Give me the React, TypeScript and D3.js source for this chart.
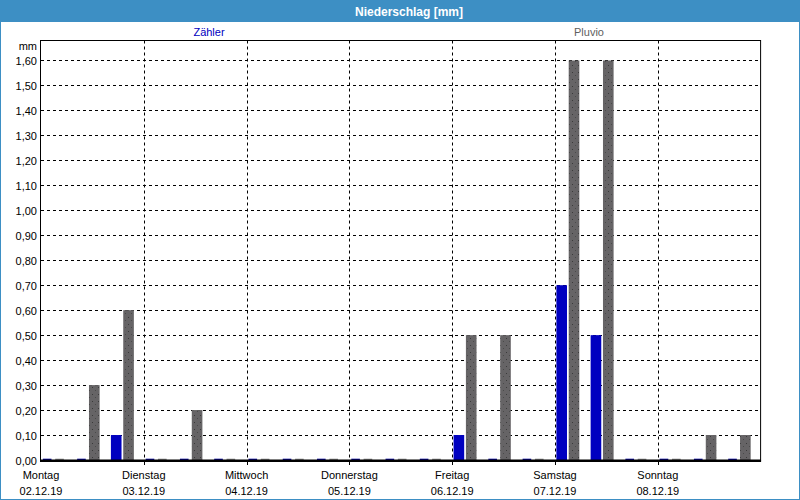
import React from "react";
import * as d3 from "d3";

const dayNames = ["Montag", "Dienstag", "Mittwoch", "Donnerstag", "Freitag", "Samstag", "Sonntag"];
const dayDates = ["02.12.19", "03.12.19", "04.12.19", "05.12.19", "06.12.19", "07.12.19", "08.12.19"];
// 8-hour periods, 3 per day
const zaehler = [0, 0, 0.1, 0, 0, 0, 0, 0, 0, 0, 0, 0, 0.1, 0, 0, 0.7, 0.5, 0, 0, 0, 0];
const pluvio = [0, 0.3, 0.6, 0, 0.2, 0, 0, 0, 0, 0, 0, 0, 0.5, 0.5, 0, 1.6, 1.6, 0, 0, 0.1, 0.1];
const yTicks = [0, 0.1, 0.2, 0.3, 0.4, 0.5, 0.6, 0.7, 0.8, 0.9, 1.0, 1.1, 1.2, 1.3, 1.4, 1.5, 1.6];

const W = 800, H = 500;
const L = 41, R = 760.6, T = 40.5, B = 460;
const font = "'Liberation Sans', Arial, sans-serif";

export default function App() {
  const x = d3.scaleLinear().domain([0, 7]).range([L, R]);
  const y = d3.scaleLinear().domain([0, 1.68]).range([B, T]);
  const slotW = (x(1) - x(0)) / 3;
  const fmt = (v: number) => v.toFixed(2).replace(".", ",");
  const bw = slotW * 0.31;

  const bar = (v: number, i: number, off: number, fill: string, stub: string, key: string) => {
    const x0 = x(i / 3) + off * slotW;
    if (v === 0) return <rect key={key} x={x0 + 0.5} y={B - 1.3} width={bw - 2} height={1.3} fill={stub} />;
    return <rect key={key} x={x0} y={y(v)} width={bw} height={B - y(v)} fill={fill} />;
  };

  return (
    <div style={{ position: "fixed", left: 0, top: 0 }}>
      <svg width={W} height={H} style={{ display: "block" }}>
        <defs>
          <pattern id="dots" width="6" height="7" patternUnits="userSpaceOnUse">
            <rect width="6" height="7" fill="#666466" />
            <rect x="2" y="2" width="1" height="1" fill="#3a3a3a" />
            <rect x="5" y="5" width="1" height="1" fill="#4a4a4a" />
          </pattern>
        </defs>
        <rect x={0} y={0} width={W} height={H} fill="#ffffff" />
        <rect x={0} y={0} width={W} height={22} fill="#3d8fc4" />
        <rect x={0} y={0} width={1} height={H} fill="#3d8fc4" />
        <rect x={W - 1} y={0} width={1} height={H} fill="#3d8fc4" />
        <rect x={0} y={H - 1} width={W} height={1} fill="#3d8fc4" />
        <text x={409} y={15.5} textAnchor="middle" fill="#ffffff" fontFamily={font} fontSize={12} fontWeight="bold">
          Niederschlag [mm]
        </text>
        <text x={209} y={36} textAnchor="middle" fill="#0000c0" fontFamily={font} fontSize={11}>Zähler</text>
        <text x={589} y={36} textAnchor="middle" fill="#606060" fontFamily={font} fontSize={11}>Pluvio</text>
        <text x={37} y={50} textAnchor="end" fill="#000" fontFamily={font} fontSize={11}>mm</text>

        {yTicks.map((v) => (
          <g key={v}>
            {v > 0 && (
              <line x1={L} x2={R} y1={Math.round(y(v)) + 0.5} y2={Math.round(y(v)) + 0.5} stroke="#000" strokeDasharray="3,3" />
            )}
            <text x={37} y={y(v) + 4.5} textAnchor="end" fill="#000" fontFamily={font} fontSize={11}>{fmt(v)}</text>
          </g>
        ))}
        {d3.range(1, 7).map((d) => (
          <g key={d}>
            <line x1={Math.round(x(d)) + 0.5} x2={Math.round(x(d)) + 0.5} y1={T} y2={B} stroke="#000" strokeDasharray="3,3" />
            <line x1={Math.round(x(d)) + 0.5} x2={Math.round(x(d)) + 0.5} y1={B} y2={B + 5} stroke="#000" />
          </g>
        ))}

        {zaehler.map((v, i) => bar(v, i, 0.04, "#0000c0", "#0000a0", "z" + i))}
        {pluvio.map((v, i) => bar(v, i, 0.40, "url(#dots)", "#8a8a8a", "p" + i))}

        <rect x={L - 0.5} y={T} width={R - L + 0.5} height={B - T} fill="none" stroke="#000" />
        <rect x={L - 1} y={B} width={R - L + 1.5} height={2} fill="#000" />

        {dayNames.map((n, d) => (
          <g key={n}>
            <text x={x(d)} y={479} textAnchor="middle" fill="#000" fontFamily={font} fontSize={11}>{n}</text>
            <text x={x(d)} y={495} textAnchor="middle" fill="#000" fontFamily={font} fontSize={11}>{dayDates[d]}</text>
          </g>
        ))}
      </svg>
    </div>
  );
}
